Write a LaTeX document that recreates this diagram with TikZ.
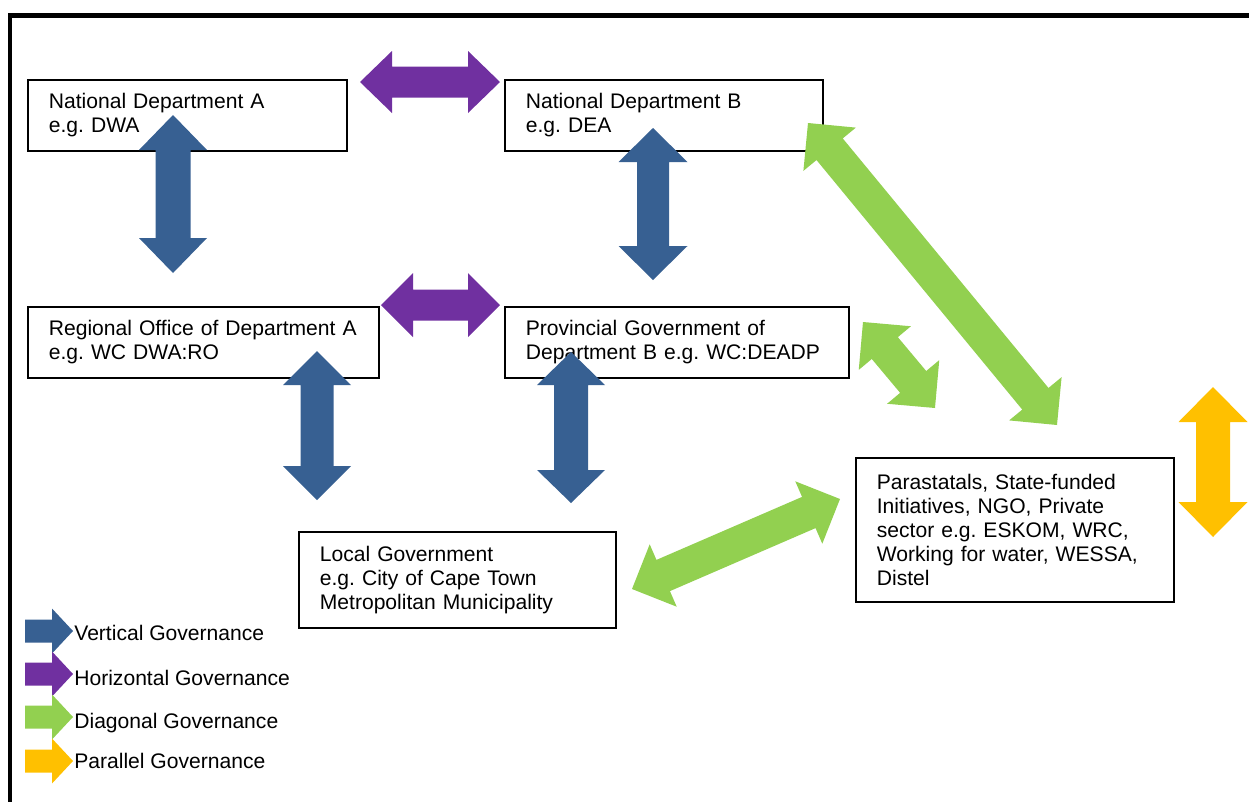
\documentclass[tikz,border=0pt]{standalone}
\usepackage{fontspec}
\setmainfont{Liberation Sans}
\usetikzlibrary{calc}
\frenchspacing

\definecolor{vblue}{HTML}{376092}
\definecolor{hpurple}{HTML}{7030A0}
\definecolor{dgreen}{HTML}{92D050}
\definecolor{porange}{HTML}{FFC000}

% Two-headed block arrow between two named coordinates.
% #1 start, #2 end, #3 colour, #4 head length, #5 head half-width, #6 shaft half-width (all in px)
\newcommand\dblarrow[6]{%
  \coordinate (#1-h) at ($(#1)!#4*0.02cm!(#2)$);
  \coordinate (#2-h) at ($(#2)!#4*0.02cm!(#1)$);
  \fill[#3] (#1) -- ($(#1-h)!#5*0.02cm!90:(#2)$) -- ($(#1-h)!#6*0.02cm!90:(#2)$)
    -- ($(#2-h)!#6*0.02cm!-90:(#1)$) -- ($(#2-h)!#5*0.02cm!-90:(#1)$) -- (#2)
    -- ($(#2-h)!#5*0.02cm!90:(#1)$) -- ($(#2-h)!#6*0.02cm!90:(#1)$)
    -- ($(#1-h)!#6*0.02cm!-90:(#2)$) -- ($(#1-h)!#5*0.02cm!-90:(#2)$) -- cycle;
}

% Right-pointing key arrow: #1 centre line (px), #2 colour
\newcommand\keyarrow[2]{%
  \fill[#2] (25,#1-11.5) -- (52,#1-11.5) -- (52,#1-22.5) -- (73,#1)
    -- (52,#1+22.5) -- (52,#1+11.5) -- (25,#1+11.5) -- cycle;
}

\tikzset{
  govbox/.style={draw, line width=1pt, fill=white, anchor=north west,
    inner xsep=0.42cm, inner ysep=0pt, align=left,
    font=\fontsize{12}{13.7}\selectfont},
  keytext/.style={anchor=base west, inner sep=0pt, font=\fontsize{12}{13.7}\selectfont}
}

\begin{document}
\begin{tikzpicture}[x=0.02cm, y=-0.02cm]
\useasboundingbox (0,0) rectangle (1249,802);

% outer frame (top and left edges)
\draw[line width=0.1cm, line join=miter] (10,802) -- (10,15) -- (1249,15);

% organisations
\node[govbox, minimum width=6.38cm, text width=5.54cm, minimum height=1.42cm]
  (nda) at (27,79) {National Department A\\e.g. DWA};
\node[govbox, minimum width=6.36cm, text width=5.52cm, minimum height=1.42cm]
  (ndb) at (504,79) {National Department B\\e.g. DEA};
\node[govbox, minimum width=7.02cm, text width=6.18cm, minimum height=1.42cm]
  (roa) at (27,306) {Regional Office of Department A\\e.g. WC DWA:RO};
\node[govbox, minimum width=6.88cm, text width=6.04cm, minimum height=1.42cm]
  (pgb) at (504,306) {Provincial Government of\\Department B e.g. WC:DEADP};
\node[govbox, minimum width=6.34cm, text width=5.50cm, minimum height=1.92cm]
  (lg) at (298,531) {Local Government\\e.g. City of Cape Town\\Metropolitan Municipality};
\node[govbox, minimum width=6.36cm, text width=5.52cm, minimum height=2.88cm]
  (para) at (855,457) {Parastatals, State-funded\\Initiatives, NGO, Private\\sector e.g. ESKOM, WRC,\\Working for water, WESSA,\\Distel};

% arrow end points
\coordinate (h1a) at (360,82);   \coordinate (h1b) at (500,82);
\coordinate (h2a) at (381,305);  \coordinate (h2b) at (500,305);
\coordinate (v1a) at (173,115);  \coordinate (v1b) at (173,273);
\coordinate (v2a) at (653,128);  \coordinate (v2b) at (653,280);
\coordinate (v3a) at (317,351);  \coordinate (v3b) at (317,500);
\coordinate (v4a) at (571,352);  \coordinate (v4b) at (571,503);
\coordinate (d1a) at (808,123);  \coordinate (d1b) at (1057,425);
\coordinate (d2a) at (863,322);  \coordinate (d2b) at (935,408);
\coordinate (d3a) at (632,589);  \coordinate (d3b) at (840,499);
\coordinate (p1a) at (1213,387); \coordinate (p1b) at (1213,537);

% horizontal governance
\dblarrow{h1a}{h1b}{hpurple}{32}{31}{15.5}
\dblarrow{h2a}{h2b}{hpurple}{32}{32}{15.5}
% vertical governance
\dblarrow{v1a}{v1b}{vblue}{35}{34}{17.5}
\dblarrow{v2a}{v2b}{vblue}{34}{34.5}{16}
\dblarrow{v3a}{v3b}{vblue}{34}{34}{16.5}
\dblarrow{v4a}{v4b}{vblue}{33}{34}{17}
% diagonal governance
\dblarrow{d1a}{d1b}{dgreen}{34}{34}{17}
\dblarrow{d2a}{d2b}{dgreen}{34}{34}{17}
\dblarrow{d3a}{d3b}{dgreen}{34}{34}{17}
% parallel governance
\dblarrow{p1a}{p1b}{porange}{35}{34.5}{17}

% key
\keyarrow{631}{vblue}
\keyarrow{674}{hpurple}
\keyarrow{717}{dgreen}
\keyarrow{761}{porange}
\node[keytext] (kv) at (74,640) {Vertical Governance};
\node[keytext] (kh) at (74,685) {Horizontal Governance};
\node[keytext] (kd) at (74,728) {Diagonal Governance};
\node[keytext] (kp) at (74,768) {Parallel Governance};
\end{tikzpicture}
\end{document}
